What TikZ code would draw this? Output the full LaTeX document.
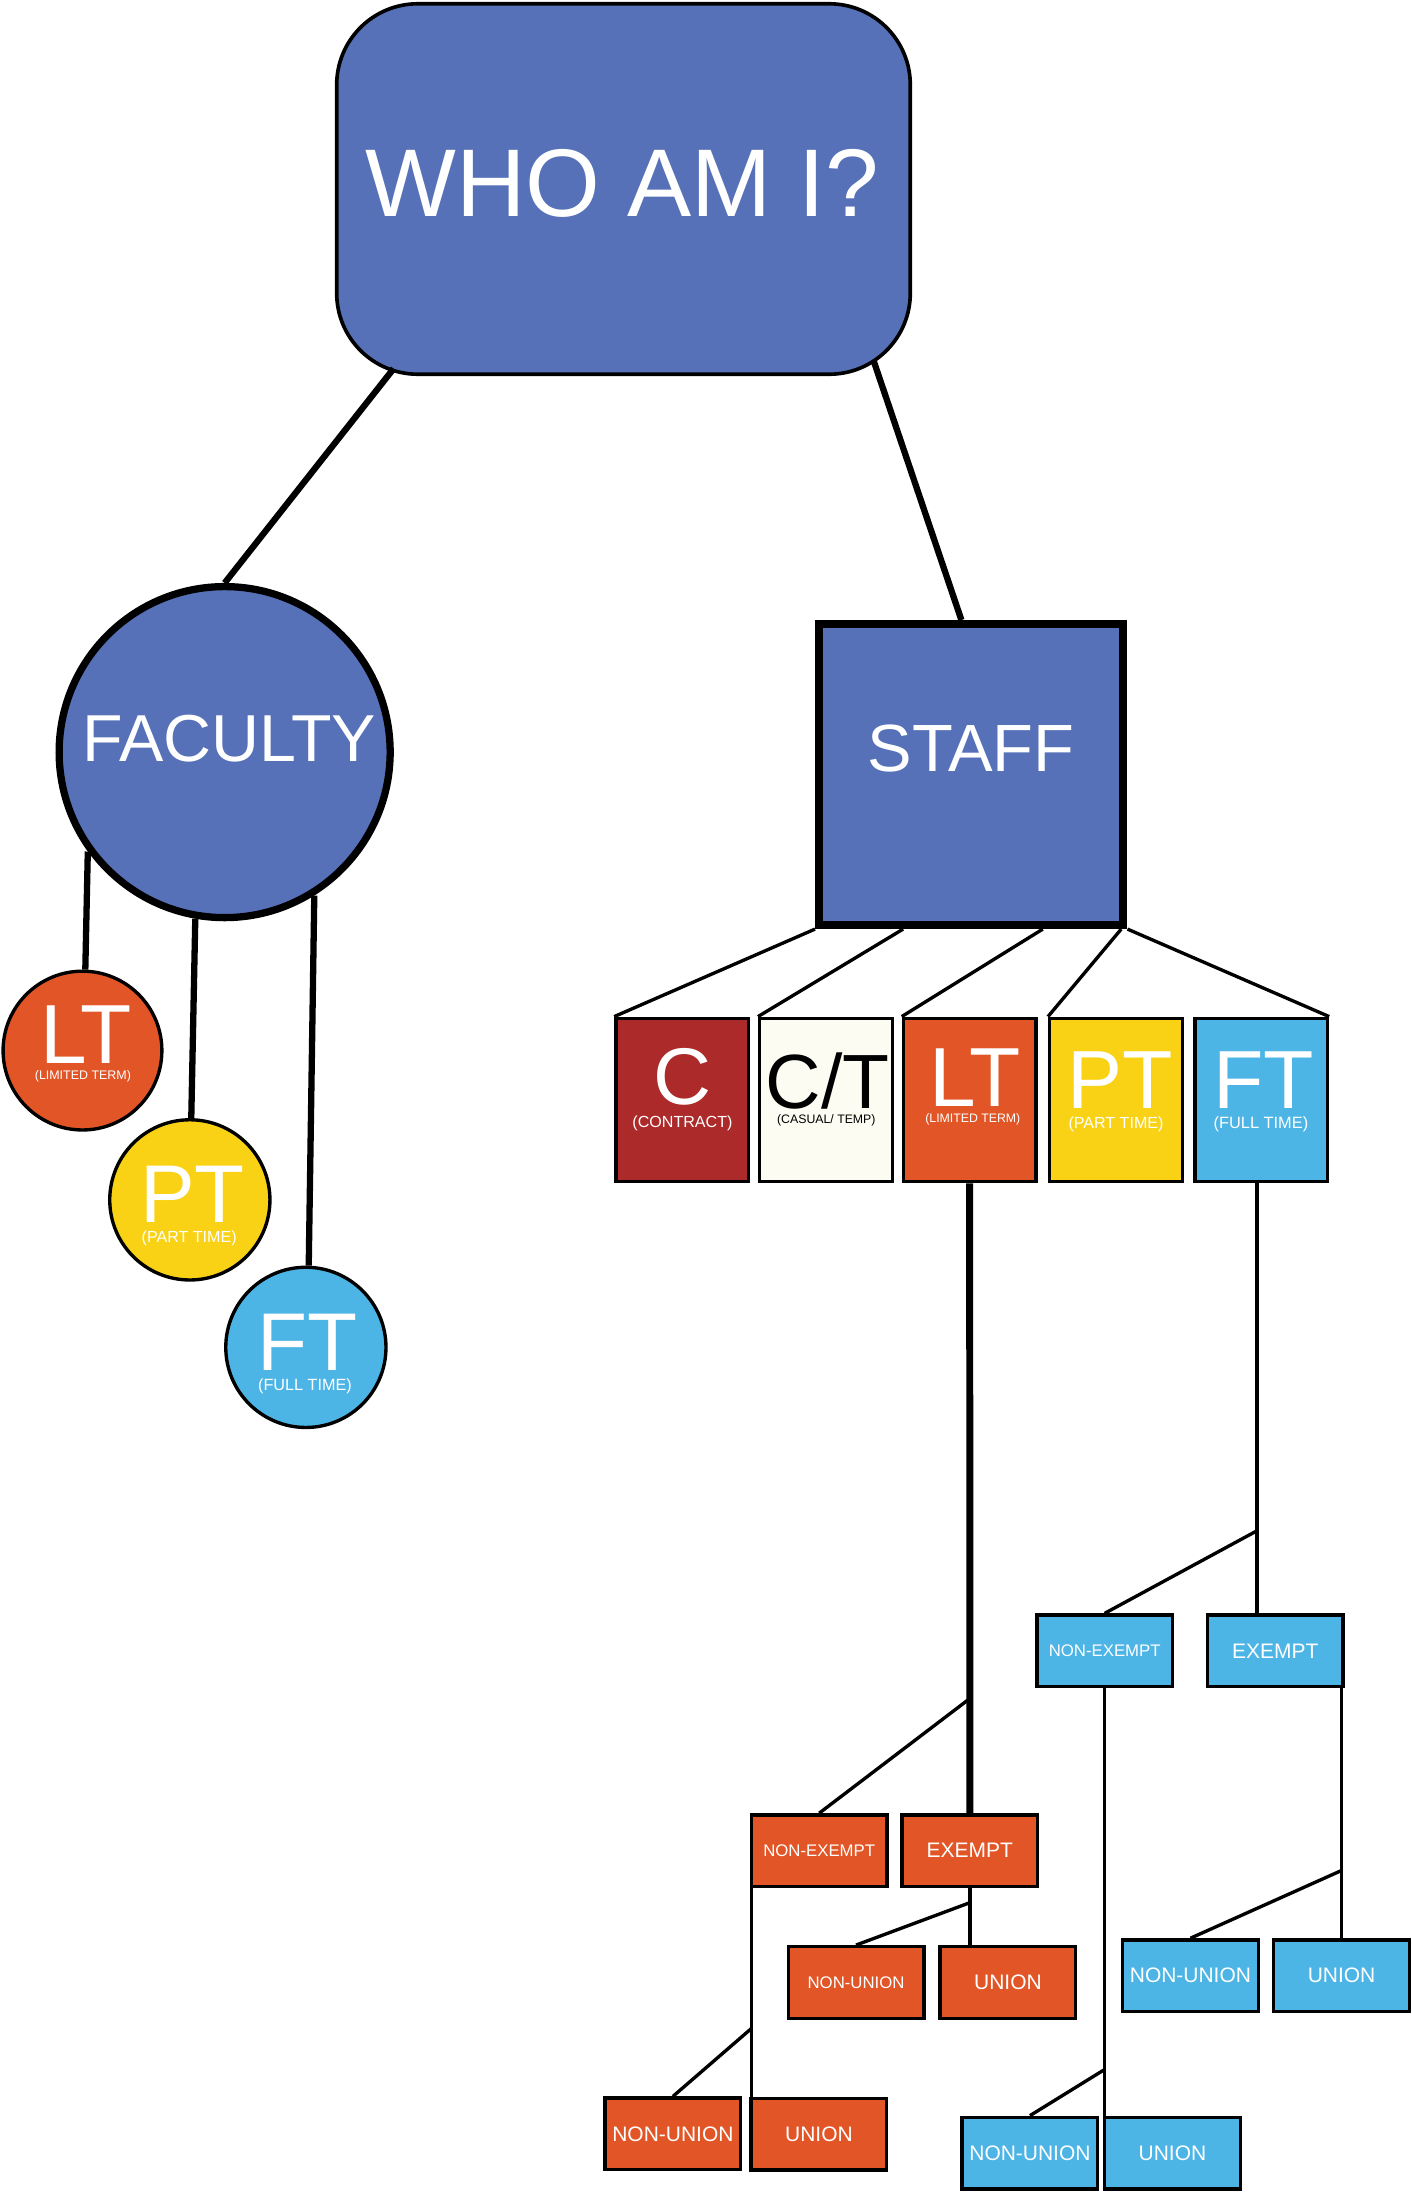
\documentclass[tikz,border=0pt]{standalone}
\usepackage{fontspec}
\setmainfont{Liberation Sans}
\usetikzlibrary{calc}
\definecolor{whoblue}{RGB}{86,113,184}
\definecolor{ltor}{RGB}{226,85,38}
\definecolor{ptyel}{RGB}{249,210,21}
\definecolor{ftblue}{RGB}{77,181,230}
\definecolor{cred}{RGB}{173,42,43}
\definecolor{ivory}{RGB}{252,252,243}
\begin{document}
\begin{tikzpicture}[x=1pt,y=1pt,
  lbl/.style={inner sep=0pt, outer sep=0pt, text=white, anchor=base},
  fs/.style={font=\fontsize{#1}{#1}\selectfont},
  sbox/.style={draw=black, line width=2.4pt, inner sep=0pt, minimum width=97pt, minimum height=51.2pt, text=white},
  tbox/.style={draw=black, line width=2.4pt, inner sep=0pt, minimum width=94.9pt, minimum height=116.9pt},
  ccirc/.style={circle, draw=black, line width=2.4pt, inner sep=0pt, minimum size=114.6pt},
  lnk/.style={line width=2.4pt},
  heavy/.style={line width=4.5pt}
]
\useasboundingbox (0,0) rectangle (1010,-1568);

% top
\node[draw=black, line width=2.6pt, fill=whoblue, rounded corners=58pt, minimum width=410.3pt, minimum height=265pt, inner sep=0pt] (who) at (446,-135.2) {};
\node[lbl, fs=68.8] (whoT) at (445,-155.1) {WHO AM I?};

\node[circle, draw=black, line width=5.2pt, fill=whoblue, minimum size=236.8pt, inner sep=0pt] (fac) at (160.7,-538) {};
\node[lbl, fs=47.5] (facT) at (164,-545) {FACULTY};

\node[draw=black, line width=5.8pt, fill=whoblue, minimum width=217.7pt, minimum height=215.3pt, inner sep=0pt] (staff) at (694.75,-554.05) {};
\node[lbl, fs=47.8] (staffT) at (694.7,-552) {STAFF};

% faculty children
\node[ccirc, fill=ltor, minimum size=113.6pt] (lt) at (59,-751.5) {};
\node[lbl, fs=60] (ltT) at (61.7,-760.5) {LT};
\node[lbl, fs=8.9] (ltS) at (59.3,-772.5) {(LIMITED TERM)};
\node[ccirc, fill=ptyel] (pt) at (135.8,-858.3) {};
\node[lbl, fs=58.6] (ptT) at (137.8,-874.5) {PT};
\node[lbl, fs=11.5] (ptS) at (135.3,-888.7) {(PART TIME)};
\node[ccirc, fill=ftblue] (ft) at (218.8,-963.8) {};
\node[lbl, fs=58.6] (ftT) at (220.3,-980.2) {FT};
\node[lbl, fs=11.6] (ftS) at (218.2,-994.5) {(FULL TIME)};

% staff children
\node[tbox, fill=cred] (cB) at (488,-786.85) {};
\node[lbl, fs=57.5] (cT) at (488,-790.3) {C};
\node[lbl, fs=11.5] (cS) at (488.2,-806.3) {(CONTRACT)};
\node[tbox, fill=ivory] (ctB) at (590.85,-786.85) {};
\node[lbl, fs=55, text=black] (ctT) at (592,-793) {C/T};
\node[lbl, fs=8.8, text=black] (ctS) at (591.1,-804) {(CASUAL/ TEMP)};
\node[tbox, fill=ltor] (ltB) at (693.65,-786.85) {};
\node[lbl, fs=60] (ltBT) at (697.5,-791.6) {LT};
\node[lbl, fs=8.8] (ltBS) at (695.9,-803) {(LIMITED TERM)};
\node[tbox, fill=ptyel] (ptB) at (798.3,-786.85) {};
\node[lbl, fs=59] (ptBT) at (801,-792.7) {PT};
\node[lbl, fs=11.5] (ptBS) at (798.3,-807.5) {(PART TIME)};
\node[tbox, fill=ftblue] (ftB) at (902.15,-786.85) {};
\node[lbl, fs=59] (ftBT) at (904,-792.7) {FT};
\node[lbl, fs=11.7] (ftBS) at (902,-807.5) {(FULL TIME)};

% orange small boxes
\node[sbox, fill=ltor, fs=12] (oNE) at (586,-1323.8) {NON-EXEMPT};
\node[sbox, fill=ltor, fs=15] (oE) at (693.75,-1323.8) {EXEMPT};
\node[sbox, fill=ltor, fs=12] (oNU1) at (612.35,-1418.15) {NON-UNION};
\node[sbox, fill=ltor, fs=15] (oU1) at (721,-1418.15) {UNION};
\node[sbox, fill=ltor, fs=15] (oNU2) at (481.35,-1526.4) {NON-UNION};
\node[sbox, fill=ltor, fs=15] (oU2) at (585.8,-1526.6) {UNION};

% blue small boxes
\node[sbox, fill=ftblue, fs=12] (bNE) at (790.2,-1180.85) {NON-EXEMPT};
\node[sbox, fill=ftblue, fs=15] (bE) at (912.2,-1180.85) {EXEMPT};
\node[sbox, fill=ftblue, fs=15] (bNU1) at (851.55,-1413.25) {NON-UNION};
\node[sbox, fill=ftblue, fs=15] (bU1) at (959.65,-1413.25) {UNION};
\node[sbox, fill=ftblue, fs=15] (bNU2) at (736.75,-1540.15) {NON-UNION};
\node[sbox, fill=ftblue, fs=15] (bU2) at (838.7,-1540.15) {UNION};

% connectors from top
\coordinate (whoL) at ($(who.south west)+(42,5.3)$);
\coordinate (whoR) at ($(who.south east)+(-27.65,11.3)$);
\coordinate (staffTop) at ($(staff.north west)!0.4685!(staff.north east)$);
\draw[heavy] (whoL) -- (fac.north);
\draw[heavy] (whoR) -- (staffTop);

% faculty children
\draw[heavy] (fac.216) -- (lt.88);
\draw[heavy] (fac.260.5) -- (pt.89);
\draw[heavy] (fac.302.8) -- (ft.88);

% staff children
\coordinate (sB2) at ($(staff.south west)!0.282!(staff.south east)$);
\coordinate (sB3) at ($(staff.south west)!0.729!(staff.south east)$);
\coordinate (sB4) at ($(staff.south west)!0.98!(staff.south east)$);
\draw[lnk] (staff.south west) -- (cB.north west);
\draw[lnk] (sB2) -- (ctB.north west);
\draw[lnk] (sB3) -- (ltB.north west);
\draw[lnk] (sB4) -- (ptB.north west);
\draw[lnk] (staff.south east) -- (ftB.north east);

% LT staff branch
\draw[line width=5pt] (ltB.south) -- (oE.north);
\coordinate (jLT) at ($(ltB.south)!0.818!(oE.north)$);
\draw[lnk] (jLT) -- (oNE.north);

% orange EXEMPT branch
\coordinate (oEb) at (oE.south |- oU1.north);
\draw[lnk] (oE.south) -- (oEb);
\coordinate (jOE) at ($(oE.south)!0.256!(oEb)$);
\draw[lnk] (jOE) -- (oNU1.north);

% orange NON-EXEMPT branch
\coordinate (oNEl) at ($(oNE.south west)+(1.2,0)$);
\coordinate (oNEb) at (oNEl |- oU2.north);
\draw[lnk] (oNEl) -- (oNEb);
\coordinate (jONE) at ($(oNEl)!0.673!(oNEb)$);
\draw[lnk] (jONE) -- (oNU2.north);

% FT staff branch
\coordinate (ftL) at ($(ftB.south)+(-3,0)$);
\coordinate (ftE) at (ftL |- bE.north);
\draw[lnk] (ftL) -- (ftE);
\coordinate (jFT) at ($(ftL)!0.808!(ftE)$);
\draw[lnk] (jFT) -- (bNE.north);

% blue NON-EXEMPT branch
\coordinate (bNEb) at (bNE.south |- bU2.north);
\draw[lnk] (bNE.south) -- (bNEb);
\coordinate (jBNE) at ($(bNE.south)!0.892!(bNEb)$);
\draw[lnk] (jBNE) -- (bNU2.north);

% blue EXEMPT branch
\coordinate (bEt) at (bU1.north |- bE.south);
\draw[lnk] (bEt) -- (bU1.north);
\coordinate (jBE) at ($(bEt)!0.729!(bU1.north)$);
\draw[lnk] (jBE) -- (bNU1.north);
\end{tikzpicture}
\end{document}
